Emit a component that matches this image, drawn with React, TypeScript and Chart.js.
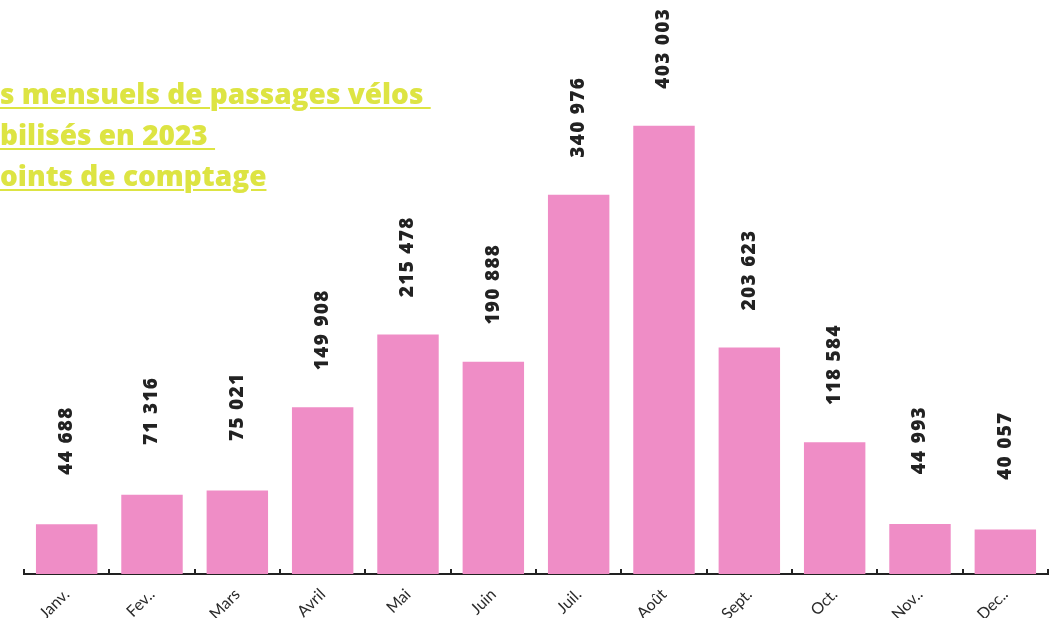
import React, { useEffect, useRef } from "react";
import { Chart, registerables } from "chart.js";

Chart.register(...registerables);

const months = ["Janv.", "Fev..", "Mars", "Avril", "Mai", "Juin", "Juil.", "Août", "Sept.", "Oct.", "Nov..", "Dec.."];
const passages = [44688, 71316, 75021, 149908, 215478, 190888, 340976, 403003, 203623, 118584, 44993, 40057];
const titleLines = ["s mensuels de passages vélos\u00a0", "bilisés en 2023\u00a0", "oints de comptage"];

const BAR_COLOR = "#EF8DC6";
const TEXT_DARK = "#222222";
const TITLE_COLOR = "#DDE443";

const fmt = (v: number) => String(v).replace(/\B(?=(\d{3})+(?!\d))/g, " ");

const overlayPlugin = {
  id: "overlay",
  afterDatasetsDraw(chart: any) {
    const ctx = chart.ctx;
    const xs = chart.scales.x;
    const meta = chart.getDatasetMeta(0);
    // value labels
    ctx.save();
    ctx.fillStyle = TEXT_DARK;
    ctx.font = "800 19px 'Open Sans'";
    try { (ctx as any).letterSpacing = "1.3px"; } catch (e) {}
    ctx.textAlign = "right";
    ctx.textBaseline = "middle";
    meta.data.forEach((bar: any, i: number) => {
      ctx.save();
      ctx.translate(bar.x, bar.y - 118);
      ctx.rotate(-Math.PI / 2);
      ctx.fillText(fmt(passages[i]), 0, 0);
      ctx.restore();
    });
    ctx.restore();
    // upward tick marks at category boundaries
    const half = (xs.getPixelForValue(1) - xs.getPixelForValue(0)) / 2;
    const base = chart.chartArea.bottom;
    ctx.save();
    ctx.strokeStyle = TEXT_DARK;
    ctx.lineWidth = 2;
    for (let i = 0; i <= months.length; i++) {
      const x = Math.round(xs.getPixelForValue(0) - half + i * 2 * half);
      ctx.beginPath();
      ctx.moveTo(x, base + 1);
      ctx.lineTo(x, base - 5);
      ctx.stroke();
    }
    ctx.restore();
  },
};

export default function App() {
  const ref = useRef<HTMLCanvasElement | null>(null);
  useEffect(() => {
    document.body.style.margin = "0";
    const chart = new Chart(ref.current as HTMLCanvasElement, {
      type: "bar",
      data: {
        labels: months,
        datasets: [
          {
            data: passages,
            backgroundColor: BAR_COLOR,
            borderWidth: 0,
            categoryPercentage: 0.8,
            barPercentage: 0.9,
          },
        ],
      },
      options: {
        animation: false,
        responsive: true,
        maintainAspectRatio: false,
        layout: { padding: { left: 24, right: 1, top: 18, bottom: 0 } },
        plugins: { legend: { display: false }, tooltip: { enabled: false }, title: { display: false } },
        scales: {
          x: {
            grid: { display: false },
            border: { display: true, color: TEXT_DARK, width: 2 },
            ticks: {
              color: "#2a2a2a",
              font: { family: "Lato", size: 16 },
              minRotation: 45,
              maxRotation: 45,
              padding: 3,
            },
            afterFit: (s: any) => {
              s.height = 44;
            },
          },
          y: { display: false, min: 0, max: 500000 },
        },
      },
      plugins: [overlayPlugin],
    });
    return () => chart.destroy();
  }, []);

  return (
    <div style={{ position: "fixed", left: 0, top: 0, width: 1049, height: 618, background: "#ffffff" }}>
      <canvas ref={ref} />
      <div
        style={{
          position: "absolute",
          left: 0,
          top: 73,
          fontFamily: "'Open Sans'",
          fontWeight: 800,
          fontSize: 28,
          lineHeight: "41px",
          color: TITLE_COLOR,
          whiteSpace: "pre",
        }}
      >
        {titleLines.map((t, i) => (
          <div key={i} style={{ textDecoration: "underline", textDecorationThickness: 2, textUnderlineOffset: 3 }}>
            <span>{t}</span>
          </div>
        ))}
      </div>
    </div>
  );
}
